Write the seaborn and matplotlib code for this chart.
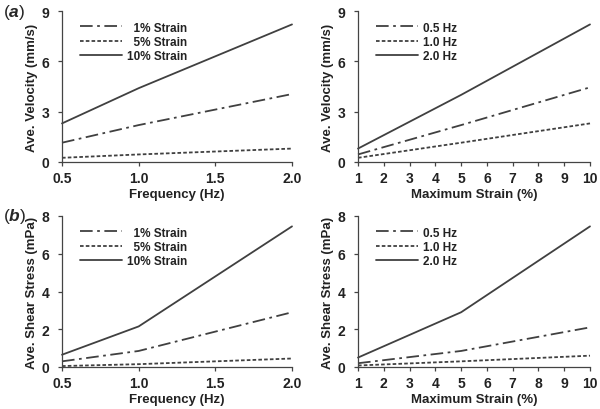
import pandas as pd
import seaborn as sns
import matplotlib
matplotlib.use("Agg")
import matplotlib.pyplot as plt

# frequency (Hz) and max strain (%) sample points
freq = [0.5, 1.0, 2.0]
strain = [1, 5, 10]

# velocity (mm/s) vs frequency, per strain level
vel_f_1 = [1.15, 2.2, 4.05]
vel_f_5 = [0.25, 0.45, 0.8]
vel_f_10 = [2.3, 4.4, 8.2]

# velocity (mm/s) vs strain, per frequency
vel_s_05 = [0.45, 2.2, 4.45]
vel_s_10 = [0.25, 1.15, 2.3]
vel_s_20 = [0.8, 4.0, 8.2]

# shear stress (mPa) vs frequency
ss_f_1 = [0.3, 0.85, 2.9]
ss_f_5 = [0.05, 0.15, 0.45]
ss_f_10 = [0.65, 2.15, 7.45]

# shear stress (mPa) vs strain
ss_s_05 = [0.2, 0.85, 2.1]
ss_s_10 = [0.08, 0.3, 0.6]
ss_s_20 = [0.5, 2.9, 7.45]

# figure space pads the shorter labels so they line up on the right
strain_names = ["\u20071% Strain", "\u20075% Strain", "10% Strain"]
freq_names = ["0.5 Hz", "1.0 Hz", "2.0 Hz"]


def long_df(x, series, names):
    rows = []
    for name, ys in zip(names, series):
        for xi, yi in zip(x, ys):
            rows.append({"x": xi, "y": yi, "series": name})
    return pd.DataFrame(rows)


sns.set_style("ticks")
plt.rcParams["font.family"] = ["Liberation Sans", "DejaVu Sans"]
plt.rcParams["font.weight"] = "bold"
plt.rcParams["axes.labelweight"] = "bold"
plt.rcParams["mathtext.fontset"] = "custom"
plt.rcParams["mathtext.it"] = "Liberation Sans:italic"
plt.rcParams["mathtext.rm"] = "Liberation Sans"

col = "#404040"
dash_styles = [(7, 2.5, 1.5, 2.5), (2, 1.2), ""]

fig = plt.figure(figsize=(6, 4.1), dpi=100)
W, H = 600, 410
boxes = [(62, 12, 292, 163), (358, 12, 590, 163),
         (62, 217, 292, 368), (358, 217, 590, 368)]
axes = [fig.add_axes([l / W, 1 - b / H, (r - l) / W, (b - t) / H]) for l, t, r, b in boxes]

panels = [
    (freq, [vel_f_1, vel_f_5, vel_f_10], strain_names, "Frequency (Hz)", "Ave. Velocity (mm/s)", 9, [0, 3, 6, 9]),
    (strain, [vel_s_05, vel_s_10, vel_s_20], freq_names, "Maximum Strain (%)", "Ave. Velocity (mm/s)", 9, [0, 3, 6, 9]),
    (freq, [ss_f_1, ss_f_5, ss_f_10], strain_names, "Frequency (Hz)", "Ave. Shear Stress (mPa)", 8, [0, 2, 4, 6, 8]),
    (strain, [ss_s_05, ss_s_10, ss_s_20], freq_names, "Maximum Strain (%)", "Ave. Shear Stress (mPa)", 8, [0, 2, 4, 6, 8]),
]

for ax, (x, series, names, xlab, ylab, ymax, yt) in zip(axes, panels):
    d = long_df(x, series, names)
    sns.lineplot(data=d, x="x", y="y", style="series", style_order=names,
                 dashes=dash_styles, color=col, linewidth=1.3, ax=ax)
    ax.set_ylim(0, ymax)
    ax.set_yticks(yt)
    if x is freq:
        ax.set_xlim(0.5, 2.0)
        ax.set_xticks([0.5, 1.0, 1.5, 2.0])
        ax.set_xticklabels(["0.5", "1.0", "1.5", "2.0"])
    else:
        ax.set_xlim(1, 10)
        ax.set_xticks(range(1, 11))
    ax.set_xlabel(xlab, fontsize=9.5, fontweight="bold", color="#222222", labelpad=2)
    ax.set_ylabel(ylab, fontsize=9.5, fontweight="bold", color="#222222", labelpad=3)
    ax.tick_params(labelsize=10, length=3, width=0.9, color="#444444", labelcolor="#222222")
    ax.tick_params(axis="y", pad=6)
    for lab in ax.get_xticklabels() + ax.get_yticklabels():
        lab.set_fontweight("bold")
    sns.despine(ax=ax)
    for s in ["left", "bottom"]:
        ax.spines[s].set_color("#444444")
        ax.spines[s].set_linewidth(0.9)
    leg = ax.legend(loc="upper left", bbox_to_anchor=(0.03, 1.0), frameon=False,
                    handlelength=3.6, handletextpad=0.4, labelspacing=0.2,
                    prop={"size": 8.5, "weight": "bold"})
    for t in leg.get_texts():
        t.set_color("#222222")
    for ln in ax.lines:
        ln.set_clip_on(False)

fig.text(3 / W, 1 - 12 / H, r"($\mathit{a}$)", fontsize=12.5, fontweight="normal", va="center")
fig.text(3 / W, 1 - 217 / H, r"($\mathit{b}$)", fontsize=12.5, fontweight="normal", va="center")

fig.savefig("out.png", dpi=100)
